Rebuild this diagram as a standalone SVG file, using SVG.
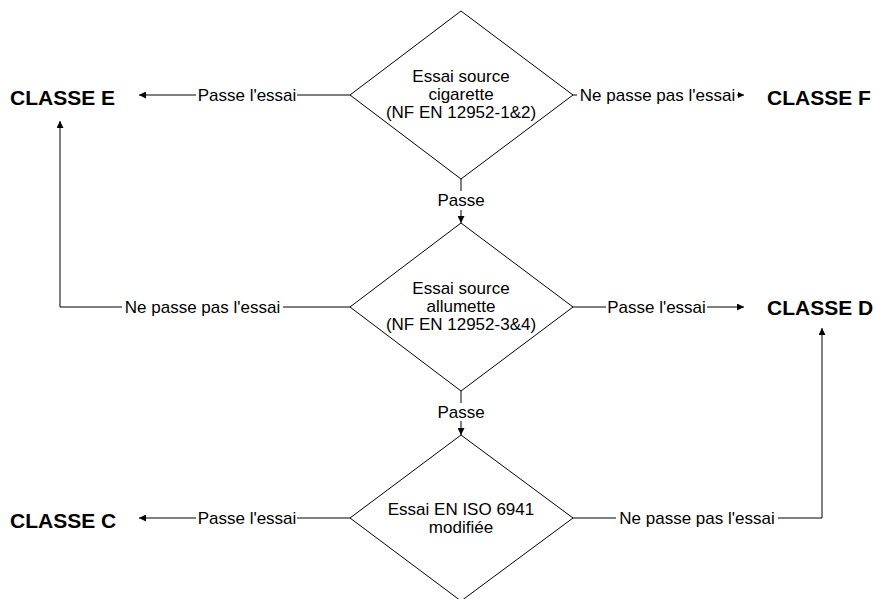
<svg xmlns="http://www.w3.org/2000/svg" width="875" height="599" viewBox="0 0 875 599">
<defs>
<style>
.shape{fill:#fff;stroke:#000;stroke-width:1}
.ln{fill:none;stroke:#000;stroke-width:1}
.t{font-family:"Liberation Sans",Arial,sans-serif;font-size:17px;fill:#000;text-anchor:middle}
.cls{font-family:"Liberation Sans",Arial,sans-serif;font-size:21px;font-weight:bold;fill:#000}
</style>
<marker id="ah" viewBox="0 0 10 10" refX="10" refY="5" markerWidth="9" markerHeight="7" markerUnits="userSpaceOnUse" orient="auto">
<path d="M0,0 L10,5 L0,10 z" fill="#000"/>
</marker>
<marker id="ahs" viewBox="0 0 10 10" refX="10" refY="5" markerWidth="6" markerHeight="6" markerUnits="userSpaceOnUse" orient="auto">
<path d="M0,0 L10,5 L0,10 z" fill="#000"/>
</marker>
</defs>
<rect width="875" height="599" fill="#fff"/>
<g id="connectors">
<!-- D1 left -> CLASSE E -->
<line class="ln" x1="350" y1="95" x2="297" y2="95"/>
<line class="ln" x1="196" y1="95" x2="139" y2="95" marker-end="url(#ah)"/>
<text class="t" x="247" y="101">Passe l'essai</text>
<!-- D1 right -> CLASSE F -->
<line class="ln" x1="573" y1="95" x2="577" y2="95"/>
<line class="ln" x1="737" y1="95" x2="744" y2="95" marker-end="url(#ahs)"/>
<text class="t" x="657.5" y="101">Ne passe pas l'essai</text>
<!-- D1 bottom -> D2 -->
<line class="ln" x1="461" y1="179" x2="461" y2="191"/>
<line class="ln" x1="461" y1="210" x2="461" y2="223" marker-end="url(#ah)"/>
<text class="t" x="461" y="206">Passe</text>
<!-- D2 left -> CLASSE E -->
<polyline class="ln" points="122,307 60,307 60,121" marker-end="url(#ah)"/>
<line class="ln" x1="283" y1="307" x2="350" y2="307"/>
<text class="t" x="202.5" y="313">Ne passe pas l'essai</text>
<!-- D2 right -> CLASSE D -->
<line class="ln" x1="573" y1="307" x2="606" y2="307"/>
<line class="ln" x1="707" y1="307" x2="744" y2="307" marker-end="url(#ah)"/>
<text class="t" x="656.5" y="313">Passe l'essai</text>
<!-- D2 bottom -> D3 -->
<line class="ln" x1="461" y1="391" x2="461" y2="403"/>
<line class="ln" x1="461" y1="421" x2="461" y2="435" marker-end="url(#ah)"/>
<text class="t" x="461" y="418">Passe</text>
<!-- D3 left -> CLASSE C -->
<line class="ln" x1="350" y1="518" x2="297" y2="518"/>
<line class="ln" x1="196" y1="518" x2="139" y2="518" marker-end="url(#ah)"/>
<text class="t" x="247" y="524">Passe l'essai</text>
<!-- D3 right -> CLASSE D -->
<line class="ln" x1="573" y1="518" x2="616" y2="518"/>
<polyline class="ln" points="778,518 822,518 822,328" marker-end="url(#ah)"/>
<text class="t" x="697" y="524">Ne passe pas l'essai</text>
</g>
<g id="d1">
<polygon class="shape" points="461,11 573,95 461,179 350,95"/>
<text class="t" x="461" y="82">Essai source</text>
<text class="t" x="461" y="100">cigarette</text>
<text class="t" x="461" y="118">(NF EN 12952-1&amp;2)</text>
</g>
<g id="d2">
<polygon class="shape" points="461,223 573,307 461,391 350,307"/>
<text class="t" x="461" y="294">Essai source</text>
<text class="t" x="461" y="312">allumette</text>
<text class="t" x="461" y="330">(NF EN 12952-3&amp;4)</text>
</g>
<g id="d3">
<polygon class="shape" points="461,435 573,518 461,601 350,518"/>
<text class="t" x="461" y="515">Essai EN ISO 6941</text>
<text class="t" x="461" y="533">modifiée</text>
</g>
<g id="classeE"><text class="cls" x="10" y="105">CLASSE E</text></g>
<g id="classeF"><text class="cls" x="767" y="105">CLASSE F</text></g>
<g id="classeD"><text class="cls" x="767" y="315">CLASSE D</text></g>
<g id="classeC"><text class="cls" x="10" y="528">CLASSE C</text></g>
</svg>
